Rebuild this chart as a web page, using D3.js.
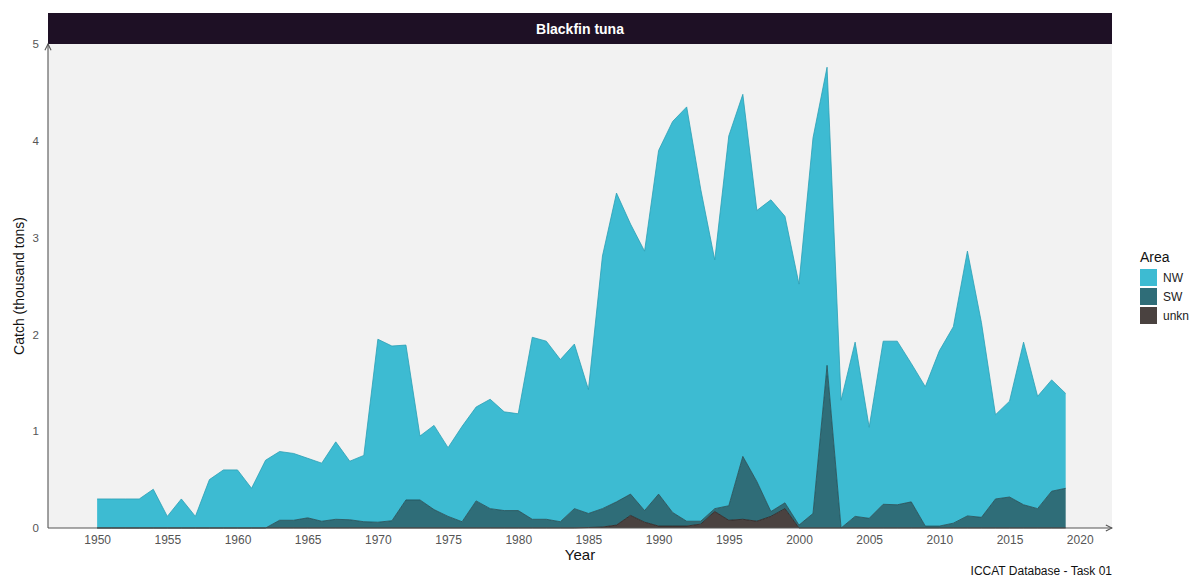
<!DOCTYPE html>
<html>
<head>
<meta charset="utf-8">
<script src="https://cdn.jsdelivr.net/npm/d3@7"></script>
<style>
  html, body { margin: 0; padding: 0; background: #ffffff; overflow: hidden; }
  svg { display: block; font-family: "Liberation Sans", Arial, sans-serif; }
</style>
</head>
<body>
<svg id="chart" width="1195" height="579"></svg>
<script>
// Blackfin tuna catches by area (thousand tons), 1950-2019
const years = d3.range(1950, 2020);

// Total catch (top of stack)
const totalCatch = [
  0.30, 0.30, 0.30, 0.30, 0.40, 0.12, 0.30, 0.12, 0.50, 0.60,
  0.60, 0.41, 0.70, 0.79, 0.77, 0.72, 0.67, 0.89, 0.69, 0.75,
  1.95, 1.88, 1.89, 0.95, 1.06, 0.83, 1.05, 1.25, 1.33, 1.20,
  1.18, 1.97, 1.93, 1.74, 1.90, 1.43, 2.81, 3.46, 3.14, 2.86,
  3.90, 4.20, 4.35, 3.50, 2.77, 4.05, 4.48, 3.28, 3.39, 3.22,
  2.52, 4.03, 4.76, 1.32, 1.92, 1.04, 1.93, 1.93, 1.70, 1.46,
  1.83, 2.08, 2.86, 2.12, 1.17, 1.31, 1.92, 1.36, 1.53, 1.39
];

// SW + unknown (top of the SW band)
const swTop = [
  0, 0, 0, 0, 0, 0, 0, 0, 0, 0,
  0, 0, 0, 0.08, 0.08, 0.105, 0.07, 0.09, 0.085, 0.065,
  0.06, 0.075, 0.29, 0.29, 0.19, 0.12, 0.065, 0.28, 0.20, 0.18,
  0.18, 0.09, 0.09, 0.065, 0.20, 0.15, 0.20, 0.27, 0.35, 0.18,
  0.35, 0.16, 0.07, 0.07, 0.20, 0.23, 0.74, 0.48, 0.17, 0.26,
  0.03, 0.15, 1.68, 0, 0.12, 0.10, 0.245, 0.24, 0.27, 0.02,
  0.02, 0.05, 0.125, 0.11, 0.30, 0.32, 0.24, 0.20, 0.38, 0.41
];

// Unknown area
const unkn = [
  0, 0, 0, 0, 0, 0, 0, 0, 0, 0,
  0, 0, 0, 0, 0, 0, 0, 0, 0, 0,
  0, 0, 0, 0, 0, 0, 0, 0, 0, 0,
  0, 0, 0, 0, 0, 0.005, 0.01, 0.03, 0.13, 0.06,
  0.02, 0.02, 0.02, 0.04, 0.17, 0.08, 0.09, 0.07, 0.12, 0.20,
  0, 0, 0, 0, 0, 0, 0, 0, 0, 0,
  0, 0, 0, 0, 0, 0, 0, 0, 0, 0
];

const SW = swTop.map((v, i) => +(v - unkn[i]).toFixed(3));
const NW = totalCatch.map((v, i) => +(v - swTop[i]).toFixed(3));

const areas = ["NW", "SW", "unknown"];
// Legend labels as they fit at the right edge of the figure
const areaLabels = ["NW", "SW", "unkn"];
const areaColors = ["#3dbbd2", "#2f6d78", "#4a4240"];
const areaStrokes = ["#2a9fb5", "#1f4f58", "#2a2120"];

const xTicks = d3.range(1950, 2021, 5);
const yTicks = [0, 1, 2, 3, 4, 5];

const rows = years.map((y, i) => ({ year: y, NW: NW[i], SW: SW[i], unknown: unkn[i] }));

const svg = d3.select("#chart");
const margin = { left: 48, right: 1112, top: 44, bottom: 528 };

const x = d3.scaleLinear().domain([1946.5, 2022.3]).range([margin.left, margin.right]);
const y = d3.scaleLinear().domain([0, 5]).range([margin.bottom, margin.top]);

// Panel background
svg.append("rect")
  .attr("x", margin.left).attr("y", margin.top)
  .attr("width", margin.right - margin.left).attr("height", margin.bottom - margin.top)
  .attr("fill", "#f2f2f2");

// Title strip
svg.append("rect")
  .attr("x", margin.left).attr("y", 13)
  .attr("width", margin.right - margin.left).attr("height", 31)
  .attr("fill", "#1e1025");
svg.append("text")
  .attr("x", (margin.left + margin.right) / 2).attr("y", 34)
  .attr("text-anchor", "middle")
  .attr("fill", "#ffffff")
  .attr("font-weight", "bold")
  .attr("font-size", 14)
  .text("Blackfin tuna");

// Stacked areas: unknown at the bottom, then SW, then NW on top
const stack = d3.stack().keys(["unknown", "SW", "NW"]);
const series = stack(rows);

const area = d3.area()
  .x(d => x(d.data.year))
  .y0(d => y(d[0]))
  .y1(d => y(d[1]));

const topLine = d3.line()
  .x(d => x(d.data.year))
  .y(d => y(d[1]));

const drawOrder = ["NW", "SW", "unknown"];
drawOrder.forEach(key => {
  const s = series.find(d => d.key === key);
  const idx = areas.indexOf(key);
  svg.append("path")
    .datum(s)
    .attr("d", area)
    .attr("fill", areaColors[idx]);
  svg.append("path")
    .datum(s)
    .attr("d", topLine)
    .attr("fill", "none")
    .attr("stroke", areaStrokes[idx])
    .attr("stroke-width", 0.8);
});

// Axes
const axisColor = "#555555";
const defs = svg.append("defs");
defs.append("marker")
  .attr("id", "arrow")
  .attr("viewBox", "0 0 10 10")
  .attr("refX", 9).attr("refY", 5)
  .attr("markerWidth", 7).attr("markerHeight", 7)
  .attr("orient", "auto")
  .append("path")
  .attr("d", "M1,1 L9,5 L1,9")
  .attr("fill", "none")
  .attr("stroke", axisColor)
  .attr("stroke-width", 1.4);

svg.append("line")
  .attr("x1", margin.left).attr("y1", margin.bottom)
  .attr("x2", margin.right).attr("y2", margin.bottom)
  .attr("stroke", axisColor).attr("stroke-width", 1.1)
  .attr("marker-end", "url(#arrow)");
svg.append("line")
  .attr("x1", margin.left).attr("y1", margin.bottom)
  .attr("x2", margin.left).attr("y2", margin.top)
  .attr("stroke", axisColor).attr("stroke-width", 1.1)
  .attr("marker-end", "url(#arrow)");

const xAxis = d3.axisBottom(x).tickValues(xTicks).tickSize(0).tickPadding(7).tickFormat(d3.format("d"));
const gx = svg.append("g").attr("transform", `translate(0,${margin.bottom})`).call(xAxis);
gx.select(".domain").remove();
gx.selectAll("text").attr("fill", "#555555").attr("font-size", 12)
  .attr("font-family", "Liberation Sans, Arial, sans-serif");

const yAxis = d3.axisLeft(y).tickValues(yTicks).tickSize(0).tickPadding(9).tickFormat(d3.format("d"));
const gy = svg.append("g").attr("transform", `translate(${margin.left},0)`).call(yAxis);
gy.select(".domain").remove();
gy.selectAll("text").attr("fill", "#555555").attr("font-size", 11.5)
  .attr("font-family", "Liberation Sans, Arial, sans-serif");

// Axis titles
svg.append("text")
  .attr("x", 580).attr("y", 560)
  .attr("text-anchor", "middle")
  .attr("font-size", 15)
  .attr("fill", "#111111")
  .text("Year");
svg.append("text")
  .attr("transform", "translate(24,286) rotate(-90)")
  .attr("text-anchor", "middle")
  .attr("font-size", 14)
  .attr("fill", "#111111")
  .text("Catch (thousand tons)");

// Legend
const legend = svg.append("g").attr("transform", "translate(1140,250)");
legend.append("text")
  .attr("x", 0).attr("y", 12)
  .attr("font-size", 14)
  .attr("fill", "#111111")
  .text("Area");
areas.forEach((k, i) => {
  legend.append("rect")
    .attr("x", 0).attr("y", 19 + i * 19)
    .attr("width", 17).attr("height", 17)
    .attr("fill", areaColors[i]);
  legend.append("text")
    .attr("x", 23).attr("y", 32 + i * 19)
    .attr("font-size", 12)
    .attr("fill", "#222222")
    .text(areaLabels[i]);
});

// Caption
svg.append("text")
  .attr("x", 1112).attr("y", 575)
  .attr("text-anchor", "end")
  .attr("font-size", 12)
  .attr("fill", "#111111")
  .text("ICCAT Database - Task 01");
</script>
</body>
</html>
